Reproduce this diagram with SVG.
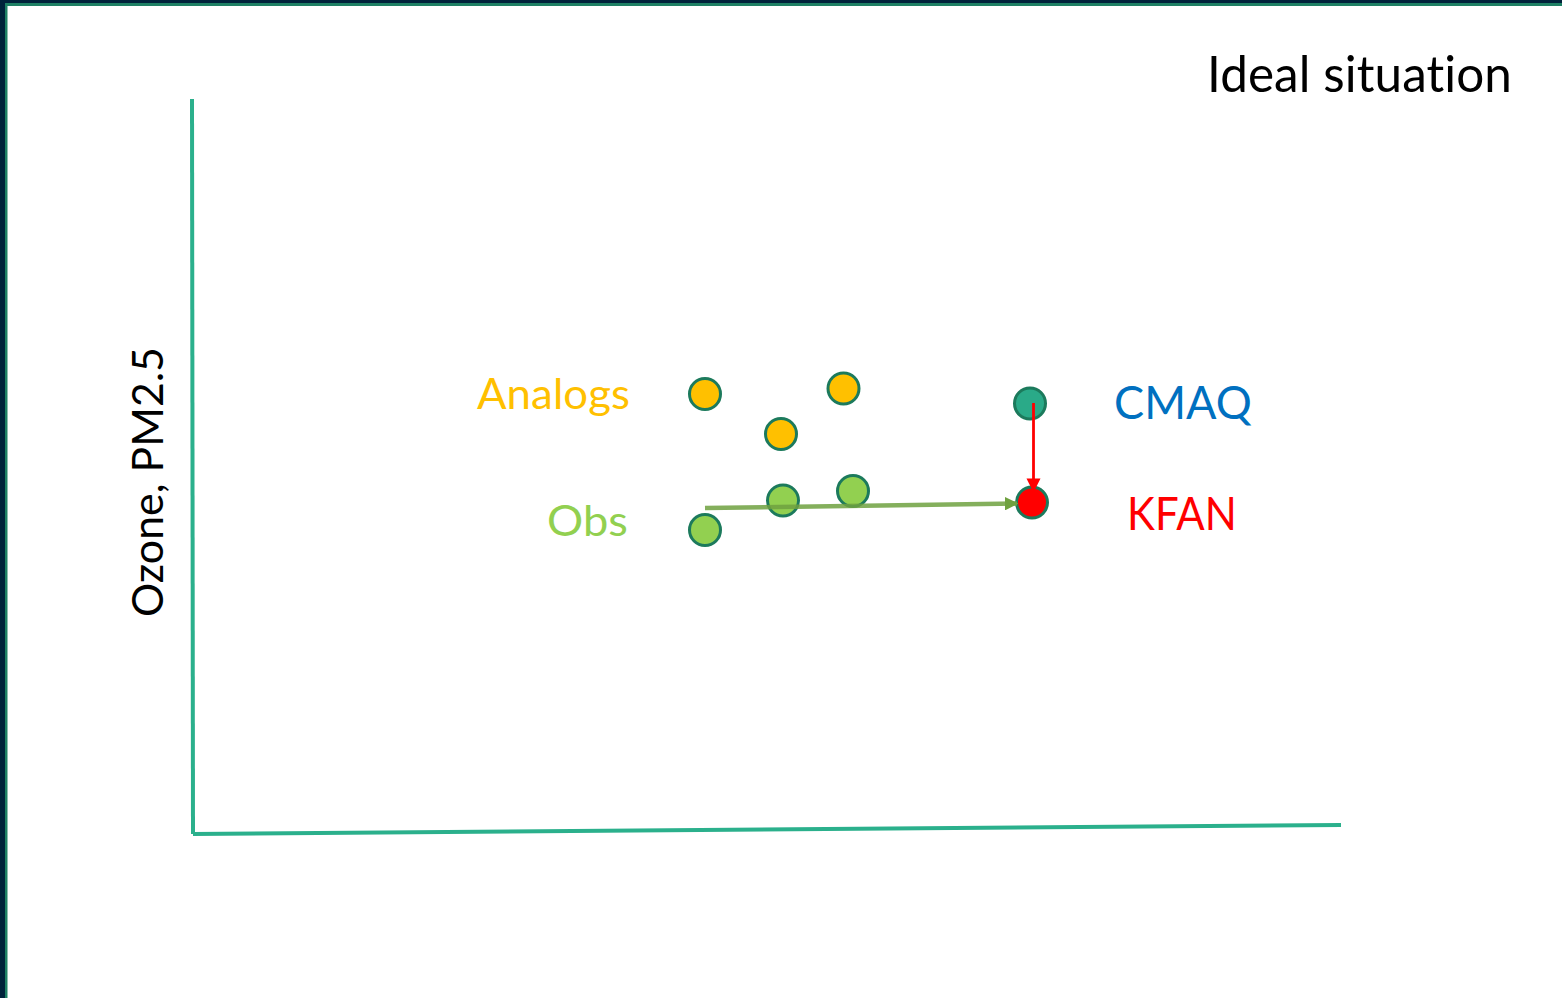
<svg xmlns="http://www.w3.org/2000/svg" width="1562" height="998" viewBox="0 0 1562 998">
  <style>
    .lbl { font-family: Lato, "Open Sans", "Liberation Sans", sans-serif; font-variant-ligatures: none; font-feature-settings: "liga" 0, "clig" 0, "dlig" 0, "calt" 0; letter-spacing: 0.1px; }
    .pt { stroke: #1C7A5C; stroke-width: 3; }
    .axis { stroke: #2BB08C; stroke-width: 4; fill: none; }
  </style>
  <defs>
    <marker id="headRed" viewBox="0 0 10 10" refX="9" refY="5" markerWidth="5" markerHeight="5.5" markerUnits="strokeWidth" orient="auto">
      <path d="M0,0 L10,5 L0,10 Z" fill="#FF0000"/>
    </marker>
    <marker id="headGreen" viewBox="0 0 10 10" refX="9" refY="5" markerWidth="3" markerHeight="3" markerUnits="strokeWidth" orient="auto">
      <path d="M0,0 L10,5 L0,10 Z" fill="#6FA13F"/>
    </marker>
  </defs>

  <!-- page frame -->
  <rect x="0" y="0" width="1562" height="998" fill="#FFFFFF"/>
  <rect x="0" y="0" width="1562" height="3" fill="#00223A"/>
  <rect x="0" y="3" width="1562" height="3" fill="#1E8064"/>
  <rect x="0" y="0" width="5" height="998" fill="#00223A"/>
  <rect x="5" y="6" width="2.5" height="992" fill="#1E8064"/>

  <!-- title -->
  <text class="lbl" x="1207" y="92" font-size="50" fill="#000000" textLength="305" lengthAdjust="spacingAndGlyphs">Ideal situation</text>

  <!-- axes -->
  <g id="axes">
    <line class="axis" x1="192" y1="99" x2="193" y2="834"/>
    <line class="axis" x1="193" y1="834" x2="1341" y2="825"/>
    <text class="lbl" transform="translate(163,617) rotate(-90)" font-size="43" fill="#000000" textLength="270" lengthAdjust="spacingAndGlyphs">Ozone, PM2.5</text>
  </g>

  <!-- labels -->
  <g id="label-analogs"><text class="lbl" x="477" y="409" font-size="43" fill="#FFC000" textLength="153" lengthAdjust="spacingAndGlyphs">Analogs</text></g>
  <g id="label-obs"><text class="lbl" x="547" y="536" font-size="43" fill="#92D050" textLength="81" lengthAdjust="spacingAndGlyphs">Obs</text></g>
  <g id="label-cmaq"><text class="lbl" x="1114" y="419" font-size="46" fill="#0070C0" textLength="138" lengthAdjust="spacingAndGlyphs">CMAQ</text></g>
  <g id="label-kfan"><text class="lbl" x="1127" y="530" font-size="46" fill="#FF0000" textLength="110" lengthAdjust="spacingAndGlyphs">KFAN</text></g>

  <!-- analog points -->
  <g id="analog-1"><circle class="pt" cx="705" cy="394" r="15.5" fill="#FFC000"/></g>
  <g id="analog-2"><circle class="pt" cx="843.5" cy="388.5" r="15.5" fill="#FFC000"/></g>
  <g id="analog-3"><circle class="pt" cx="781" cy="434" r="15.5" fill="#FFC000"/></g>

  <!-- observation points -->
  <g id="obs-1"><circle class="pt" cx="705" cy="530" r="15.5" fill="#92D050"/></g>
  <g id="obs-2"><circle class="pt" cx="783" cy="500.5" r="15.5" fill="#92D050"/></g>
  <g id="obs-3"><circle class="pt" cx="853" cy="491" r="15.5" fill="#92D050"/></g>

  <!-- model and corrected forecast -->
  <g id="cmaq"><circle class="pt" cx="1030" cy="403.5" r="15.5" fill="#2AAA88"/></g>
  <g id="kfan"><circle class="pt" cx="1032" cy="502.5" r="15.5" fill="#FF0000"/></g>

  <!-- connectors -->
  <g id="connectors">
    <line x1="1033.5" y1="403" x2="1033.5" y2="491" stroke="#FF0000" stroke-width="2.8" marker-end="url(#headRed)"/>
    <line x1="705" y1="508" x2="1017" y2="503.5" stroke="#6FA13F" stroke-width="4.5" stroke-opacity="0.85" marker-end="url(#headGreen)"/>
  </g>
</svg>
